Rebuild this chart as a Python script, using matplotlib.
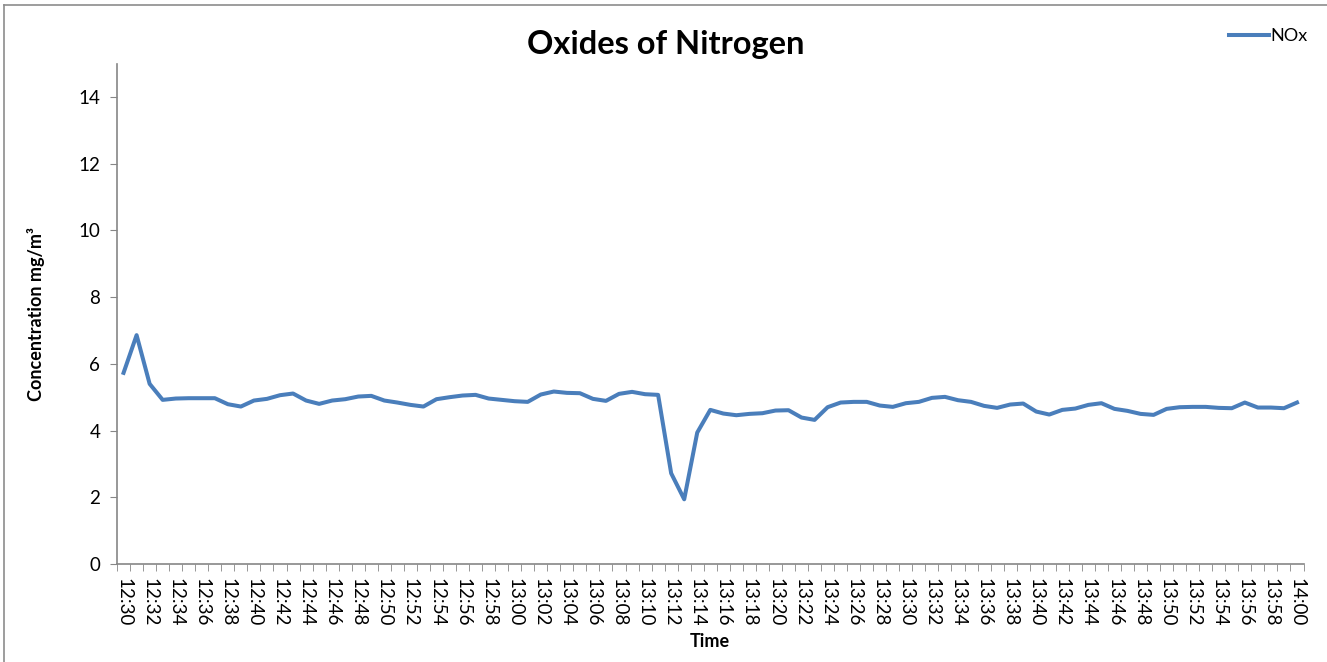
import matplotlib.pyplot as plt
import matplotlib.lines as mlines
import numpy as np

# NOx readings, one per minute from 12:30 to 14:00
times = ["%d:%02d" % (12 + (30 + m) // 60, (30 + m) % 60) for m in range(91)]
nox = [5.73, 6.86, 5.40, 4.92, 4.96, 4.97, 4.97, 4.97, 4.79, 4.72,
       4.90, 4.95, 5.06, 5.11, 4.90, 4.80, 4.90, 4.94, 5.02, 5.04,
       4.90, 4.84, 4.77, 4.72, 4.94, 5.00, 5.05, 5.07, 4.96, 4.92,
       4.88, 4.86, 5.08, 5.17, 5.13, 5.12, 4.95, 4.89, 5.10, 5.16,
       5.09, 5.07, 2.72, 1.94, 3.94, 4.62, 4.51, 4.46, 4.50, 4.52,
       4.60, 4.61, 4.39, 4.32, 4.70, 4.84, 4.86, 4.86, 4.75, 4.71,
       4.82, 4.86, 4.98, 5.01, 4.91, 4.86, 4.74, 4.68, 4.78, 4.81,
       4.57, 4.48, 4.62, 4.66, 4.77, 4.82, 4.65, 4.59, 4.50, 4.47,
       4.65, 4.70, 4.71, 4.71, 4.68, 4.67, 4.84, 4.69, 4.69, 4.67,
       4.84]

plt.rcParams['font.family'] = ['Lato', 'DejaVu Sans']

fig = plt.figure(figsize=(13.27, 6.62), dpi=100)
ax = fig.add_axes([0.0882, 0.148, 0.8941, 0.756])

x = np.arange(len(nox))
line, = ax.plot(x, nox, color='#4A7EBB', linewidth=2.9, label='NOx')

ax.set_xlim(-0.5, len(nox) - 0.5)
ax.set_ylim(0, 15)
ax.set_yticks(np.arange(0, 15, 2))

# category ticks between points, labels every 2 minutes
ax.set_xticks(np.arange(-0.5, len(nox), 1), minor=True)
ax.set_xticks(x[::2])
ax.set_xticklabels(times[::2], rotation=270, fontsize=13.5)
ax.tick_params(axis='x', which='major', length=0, pad=10)
ax.tick_params(axis='x', which='minor', length=5, color='#868686', direction='out')
ax.tick_params(axis='y', length=5, color='#868686', labelsize=13.5, pad=7)

for s in ['top', 'right']:
    ax.spines[s].set_visible(False)
for s in ['left', 'bottom']:
    ax.spines[s].set_color('#868686')
    ax.spines[s].set_linewidth(1.2)

fig.text(0.502, 0.933, "Oxides of Nitrogen", ha='center', va='center',
         fontsize=23.5, fontweight='bold')
ax.set_ylabel("Concentration mg/m³", fontsize=13, fontweight='bold', labelpad=24)
ax.set_xlabel("Time", fontsize=13, fontweight='bold', labelpad=5)

fig.legend(handles=[line], loc='center left', bbox_to_anchor=(0.914, 0.945),
           frameon=False, fontsize=13, handlelength=2.2, handletextpad=0.1)

# chart border, only top and left edges inside the picture
fig.add_artist(mlines.Line2D([0.003, 1.0], [0.993, 0.993], transform=fig.transFigure,
                             color='#8c8c8c', linewidth=1.2))
fig.add_artist(mlines.Line2D([0.003, 0.003], [0.0, 0.993], transform=fig.transFigure,
                             color='#8c8c8c', linewidth=1.2))

fig.savefig('out.png', dpi=100)
